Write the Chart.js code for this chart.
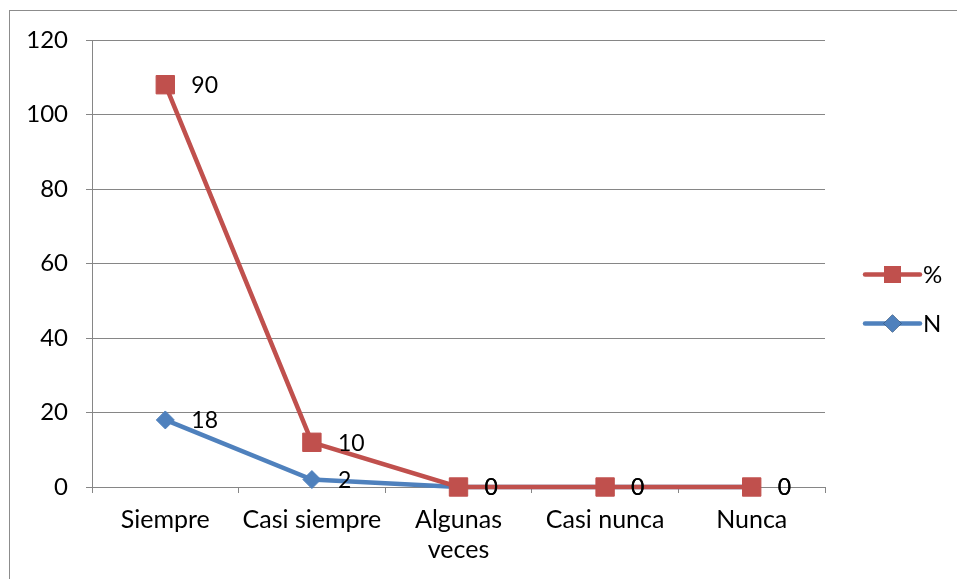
<!DOCTYPE html>
<html>
<head>
<meta charset="utf-8">
<script src="https://cdn.jsdelivr.net/npm/chart.js@4/dist/chart.umd.min.js"></script>
<style>
    body { margin: 0; background: #fff; overflow: hidden; }
    #wrap { position: relative; width: 957px; height: 579px; }
    #frame { position: absolute; left: 9px; top: 10px; width: 1000px; height: 700px; border: 1px solid #8c8c8c; box-sizing: border-box; }
    #chart { position: absolute; left: 0; top: 0; }
</style>
</head>
<body>
<div id="wrap">
    <div id="frame"></div>
    <canvas id="chart" width="957" height="579"></canvas>
</div>
<script>
const categories = ['Siempre', 'Casi siempre', ['Algunas', 'veces'], 'Casi nunca', 'Nunca'];
const nValues = [18, 2, 0, 0, 0];
const pctValues = [90, 10, 0, 0, 0];
const yTicks = [0, 20, 40, 60, 80, 100, 120];

const FONT = 'Lato, Calibri, sans-serif';
const red = '#C0504D';
const blue = '#4F81BD';
const gridColor = '#868686';

// stacked line: % sits on top of N (like Excel)
const pctStacked = pctValues.map((v, i) => v + nValues[i]);

const labelsPlugin = {
    id: 'pointLabels',
    afterDatasetsDraw(chart) {
        const ctx = chart.ctx;
        ctx.save();
        ctx.font = '23px ' + FONT;
        ctx.fillStyle = '#000';
        ctx.textBaseline = 'middle';
        ctx.textAlign = 'left';
        chart.data.datasets.forEach((ds, di) => {
            const meta = chart.getDatasetMeta(di);
            meta.data.forEach((pt, i) => {
                ctx.fillText(String(ds.rawValues[i]), pt.x + 26, pt.y + 1);
            });
        });
        ctx.restore();
    }
};

const legendPlugin = {
    id: 'sideLegend',
    afterDraw(chart) {
        const ctx = chart.ctx;
        const area = chart.chartArea;
        const x0 = area.right + 40;
        const x1 = x0 + 55;
        const midY = (area.top + area.bottom) / 2;
        const rows = [
            { ds: chart.data.datasets[0], y: midY + 11 },
            { ds: chart.data.datasets[1], y: midY + 60 }
        ];
        ctx.save();
        rows.forEach(r => {
            ctx.strokeStyle = r.ds.borderColor;
            ctx.lineWidth = 4.5;
            ctx.lineCap = 'round';
            ctx.beginPath();
            ctx.moveTo(x0, r.y);
            ctx.lineTo(x1, r.y);
            ctx.stroke();
            Chart.helpers.drawPoint(ctx, {
                pointStyle: r.ds.pointStyle,
                radius: r.ds.pointStyle === 'rect' ? 12 : 9,
                borderWidth: 0
            }, (x0 + x1) / 2, r.y);
            ctx.fillStyle = r.ds.borderColor;
            ctx.fill();
            ctx.fillStyle = '#000';
            ctx.font = '24px ' + FONT;
            ctx.textBaseline = 'middle';
            ctx.fillText(r.ds.label, x1 + 3, r.y + 1);
        });
        ctx.restore();
    }
};

new Chart(document.getElementById('chart'), {
    type: 'line',
    data: {
        labels: categories,
        datasets: [
            {
                label: '%',
                data: pctStacked,
                rawValues: pctValues,
                borderColor: red,
                backgroundColor: red,
                borderWidth: 4.5,
                pointStyle: 'rect',
                pointRadius: 13,
                pointBorderWidth: 1,
                tension: 0,
                clip: false
            },
            {
                label: 'N',
                data: nValues,
                rawValues: nValues,
                borderColor: blue,
                backgroundColor: blue,
                borderWidth: 4.5,
                pointStyle: 'rectRot',
                pointRadius: 9,
                pointBorderWidth: 1,
                tension: 0,
                clip: false
            }
        ]
    },
    options: {
        responsive: false,
        animation: false,
        devicePixelRatio: 1,
        layout: { padding: { top: 40, right: 132, left: 0, bottom: 0 } },
        plugins: {
            legend: { display: false },
            tooltip: { enabled: false }
        },
        scales: {
            x: {
                offset: true,
                grid: { display: true, drawOnChartArea: false, offset: true, color: gridColor, tickLength: 6 },
                border: { color: gridColor },
                ticks: { color: '#000', font: { family: FONT, size: 25, lineHeight: 1.2 }, padding: 12, maxRotation: 0, autoSkip: false },
                afterFit(scale) { scale.height = 92; }
            },
            y: {
                min: yTicks[0],
                max: yTicks[yTicks.length - 1],
                afterBuildTicks(scale) { scale.ticks = yTicks.map(v => ({ value: v })); },
                grid: { color: gridColor, tickLength: 6 },
                border: { color: gridColor },
                ticks: { color: '#000', font: { family: FONT, size: 24 }, padding: 18 },
                afterFit(scale) { scale.width = 92; }
            }
        }
    },
    plugins: [labelsPlugin, legendPlugin]
});
</script>
</body>
</html>
